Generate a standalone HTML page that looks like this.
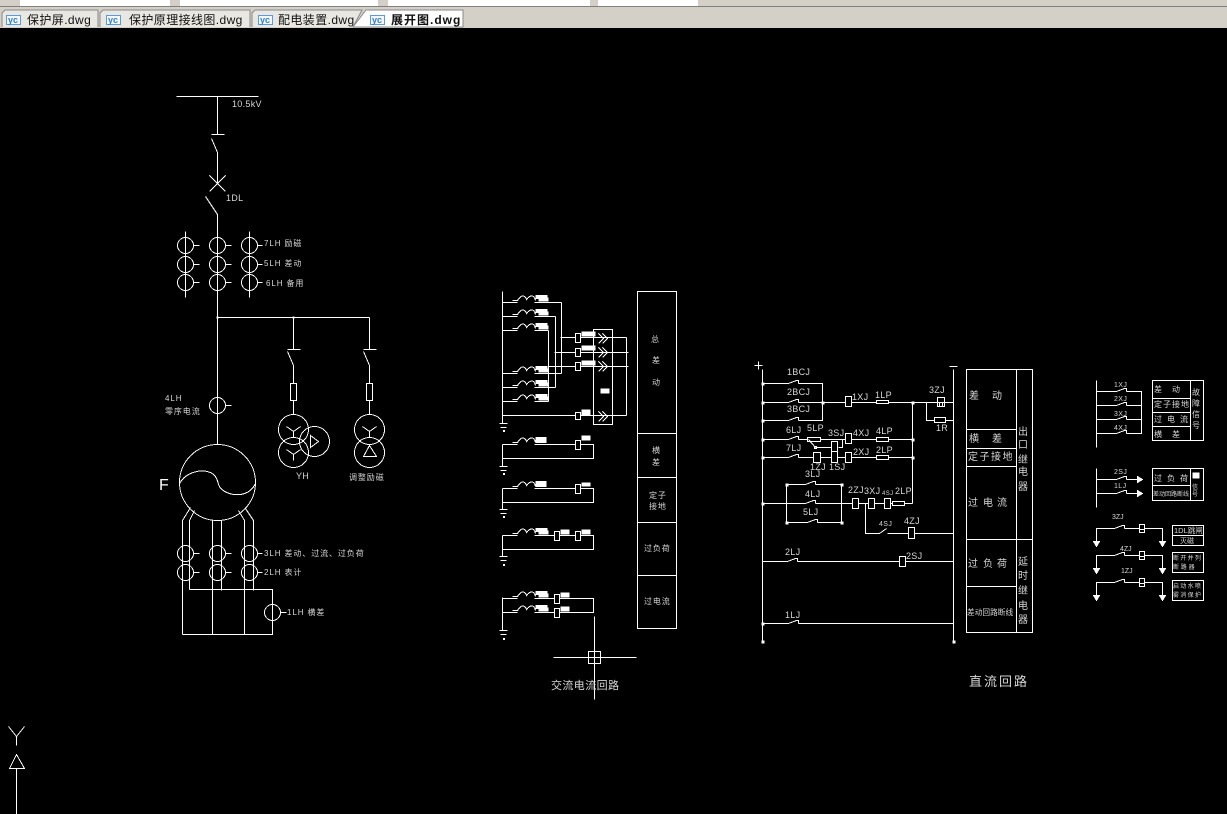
<!DOCTYPE html>
<html><head><meta charset="utf-8"><title>展开图.dwg</title>
<style>
html,body{margin:0;padding:0;width:1227px;height:814px;overflow:hidden;background:#000}
svg{display:block}
text{font-family:"Liberation Sans","WenQuanYi Zen Hei","Noto Sans CJK SC",sans-serif;fill:#d6d6d6;stroke:none}
.s{font-size:8px;letter-spacing:.9px}
.m{font-size:9px;letter-spacing:.3px}
.c{font-size:10px}
.t{font-size:12px;fill:#111;letter-spacing:.4px}
.y{font-size:9px;font-weight:bold;fill:#2f7fd0;letter-spacing:0}
</style></head><body>
<svg width="1227" height="814" viewBox="0 0 1227 814" xmlns="http://www.w3.org/2000/svg">
<defs>
<path id="coil" d="M-5 -2H0Q3 -7 6 -6.500Q8 -6 9 -3Q12 -7 15 -6.500Q17 -6 18 -2" fill="none" stroke="#fff"/>
<g id="blk"><rect x="0" y="-7.500" width="12" height="4" fill="#fff" stroke="none"/><rect x="3" y="-5" width="10" height="4" fill="#fff" stroke="none"/></g>
<g id="blk2"><rect x="0" y="-7.500" width="11" height="6" fill="#fff" stroke="none"/></g>
<path id="chev" d="M0 -5L5 0L0 5M4 -5L9 0L4 5" fill="none" stroke="#fff"/>
<g id="ct"><rect x="0" y="-1" width="10" height="2" fill="#000" stroke="none"/><path d="M0 0L8 -3H10V0" fill="none" stroke="#fff"/></g>
<path id="gnd" d="M-3 0H5M-2 4H4" fill="none" stroke="#fff"/>
<path id="arr" d="M-3 0H3L0 5Z" fill="#fff" stroke="#fff"/>
<circle id="ctc" r="8" fill="none" stroke="#fff"/>
</defs>

<rect width="1227" height="814" fill="#000"/>
<!-- tab strip -->
<rect width="1227" height="28" fill="#d4d0c8"/>
<rect x="20" y="0" width="150" height="6" fill="#fff"/>
<rect x="180" y="0" width="198" height="6" fill="#fff"/>
<rect x="388" y="0" width="202" height="6" fill="#fff"/>
<rect x="598" y="0" width="100" height="6" fill="#fff"/>
<rect x="0" y="6" width="1227" height="1" fill="#808080"/>
<g stroke="#8a8a8a" fill="#e9e7e2">
<path d="M2 27V13L5 10H98V27"/>
<path d="M100 27V13L103 10H250V27"/>
<path d="M252 27V13L255 10H362L353 27"/>
<path d="M353 27L366 10H463V27Z" fill="#fff"/>
</g>
<g stroke="#5b9bdd" fill="#f4f8fd">
<rect x="6.500" y="15.500" width="14" height="9"/><rect x="106.500" y="15.500" width="14" height="9"/><rect x="258.500" y="15.500" width="14" height="9"/><rect x="370.500" y="15.500" width="14" height="9"/>
</g>
<text class="y" x="8" y="23">yc</text><text class="y" x="108" y="23">yc</text><text class="y" x="260" y="23">yc</text><text class="y" x="372" y="23">yc</text>
<text class="t" x="27" y="24">保护屏.dwg</text>
<text class="t" x="129" y="24">保护原理接线图.dwg</text>
<text class="t" x="278" y="24">配电装置.dwg</text>
<text class="t" x="391" y="24" style="font-weight:bold;letter-spacing:1px">展开图.dwg</text>

<g transform="translate(.5,.5)" fill="none" stroke="#fff" stroke-width="1" shape-rendering="crispEdges">
<!-- single line diagram -->
<path d="M176 96H258M217 96V134M211 134H224M211 138L217 152V183M209 175L225 191M225 175L209 191M205 196L217 214V444"/>
<path d="M185 231V297M249 231V297"/>
<use href="#ctc" x="185" y="245"/><use href="#ctc" x="217" y="245"/><use href="#ctc" x="249" y="245"/>
<use href="#ctc" x="185" y="264"/><use href="#ctc" x="217" y="264"/><use href="#ctc" x="249" y="264"/>
<use href="#ctc" x="185" y="282"/><use href="#ctc" x="217" y="282"/><use href="#ctc" x="249" y="282"/>
<path d="M193 245H199M225 245H231M257 245H262M193 264H199M225 264H231M257 264H262M193 282H199M225 282H231M257 282H262"/>
<path d="M217 317H369M293 317V349M287 349H300M369 317V349M363 349H376"/>
<path d="M287 351L293 365V383M363 351L369 365V383"/>
<rect x="290" y="383" width="6" height="17"/><rect x="366" y="383" width="6" height="17"/>
<path d="M293 400V414M369 400V414"/>
<circle cx="293" cy="429" r="15"/><circle cx="293" cy="452" r="15"/><circle cx="314" cy="441" r="15"/>
<circle cx="369" cy="429" r="15"/><circle cx="369" cy="452" r="15"/>
<path d="M286 426L293 431L300 426M293 431V437M286 449L293 454L300 449M293 454V460M310 435V447L318 441Z"/>
<path d="M362 426L369 431L376 426M369 431V437M369 445L363 456H376Z"/>
<use href="#ctc" x="217" y="405"/><path d="M225 405H231"/>
<circle cx="217" cy="482" r="38"/>
<path d="M179 483C185 472 200 468 210 472C216 475 217 480 218 484C221 492 232 495 240 494C247 493 252 489 255 483"/>
<path d="M190 507L182 520V634M194 510L189 520V589M212 520V634M221 520V590M238 510L244 520V634M245 508L253 520V590"/>
<use href="#ctc" x="185" y="553"/><use href="#ctc" x="217" y="553"/><use href="#ctc" x="249" y="553"/>
<use href="#ctc" x="185" y="572"/><use href="#ctc" x="217" y="572"/><use href="#ctc" x="249" y="572"/>
<path d="M193 553H199M225 553H231M257 553H262M193 572H199M225 572H231M257 572H262"/>
<path d="M189 589H272V634H182"/>
<use href="#ctc" x="272" y="612"/><path d="M280 612H286"/>

<!-- AC circuit -->
<path d="M502 291V423M561 302V373M555 316V387M548 330V401"/>
<path d="M502 302H517M534 302H561M502 316H517M534 316H555M502 330H517M534 330H548M502 373H517M534 373H561M502 387H517M534 387H555M502 401H517M534 401H548"/>
<use href="#coil" x="517" y="302"/><use href="#coil" x="517" y="316"/><use href="#coil" x="517" y="330"/><use href="#coil" x="517" y="373"/><use href="#coil" x="517" y="387"/><use href="#coil" x="517" y="401"/>
<use href="#blk" x="535" y="302"/><use href="#blk" x="535" y="316"/><use href="#blk" x="535" y="330"/><use href="#blk" x="535" y="373"/><use href="#blk" x="535" y="387"/><use href="#blk" x="535" y="401"/>
<path d="M560 337H575M580 337H626M554 352H575M580 352H628M548 366H575M580 366H628M502 415H575M580 415H626M626 337V415"/>
<rect x="575" y="333" width="5" height="9" fill="#000"/><rect x="575" y="348" width="5" height="8" fill="#000"/><rect x="575" y="362" width="5" height="8" fill="#000"/><rect x="575" y="412" width="5" height="7" fill="#000"/>
<rect x="593" y="329" width="19" height="95"/>
<use href="#chev" x="598" y="338"/><use href="#chev" x="598" y="352"/><use href="#chev" x="598" y="366"/><use href="#chev" x="598" y="416"/>
<g fill="#fff" stroke="none"><rect x="581" y="331" width="14" height="5"/><rect x="581" y="345" width="14" height="5"/><rect x="581" y="360" width="14" height="5"/><rect x="581" y="409" width="9" height="6"/><rect x="600" y="388" width="9" height="5"/></g>
<use href="#gnd" x="502" y="423"/><rect x="503" y="430" width="1" height="1"/>
<!-- group 2 -->
<path d="M502 444V466M502 444H517M534 444H575M580 444H593V458H502"/>
<use href="#coil" x="517" y="444"/><use href="#blk2" x="535" y="444"/>
<rect x="575" y="440" width="5" height="9" fill="#000"/><rect x="581" y="435" width="9" height="5" fill="#fff" stroke="none"/>
<use href="#gnd" x="502" y="466"/><rect x="503" y="473" width="1" height="1"/>
<!-- group 3 -->
<path d="M502 488V509M502 488H517M534 488H575M580 488H593V502H502"/>
<use href="#coil" x="517" y="488"/><use href="#blk2" x="535" y="488"/>
<rect x="575" y="484" width="5" height="9" fill="#000"/><rect x="581" y="482" width="9" height="4" fill="#fff" stroke="none"/>
<use href="#gnd" x="502" y="509"/><rect x="503" y="516" width="1" height="1"/>
<!-- group 4 -->
<path d="M502 535V556M502 535H517M534 535H554M559 535H575M580 535H593V549H502"/>
<use href="#coil" x="517" y="535"/><use href="#blk" x="535" y="535"/>
<rect x="554" y="531" width="5" height="9" fill="#000"/><rect x="575" y="531" width="5" height="9" fill="#000"/>
<rect x="560" y="529" width="9" height="5" fill="#fff" stroke="none"/><rect x="581" y="529" width="9" height="5" fill="#fff" stroke="none"/>
<use href="#gnd" x="502" y="556"/><rect x="503" y="564" width="1" height="1"/>
<!-- group 5 -->
<path d="M502 597V630M502 598H517M534 598H554M559 598H593V612H559M554 612H534M517 612H502"/>
<use href="#coil" x="517" y="598"/><use href="#coil" x="517" y="612"/><use href="#blk" x="535" y="598"/><use href="#blk" x="535" y="612"/>
<rect x="554" y="594" width="5" height="9" fill="#000"/><rect x="554" y="608" width="5" height="9" fill="#000"/>
<rect x="560" y="592" width="9" height="5" fill="#fff" stroke="none"/><rect x="560" y="606" width="9" height="5" fill="#fff" stroke="none"/>
<use href="#gnd" x="502" y="630"/><rect x="503" y="638" width="1" height="1"/>
<!-- crosshair -->
<path d="M594 616V699M553 657H636"/>
<rect x="588" y="651" width="12" height="12"/>
<!-- AC table -->
<rect x="637" y="291" width="39" height="337"/>
<path d="M637 433H676M637 477H676M637 522H676M637 575H676"/>

<!-- DC circuit -->
<path d="M754 365H762M758 361V369M949 366H957M762 369V642M953 369V642"/>
<path d="M762 383H822V420H762M762 402H845M851 402H876M888 402H937M944 402H953M926 402V420H934M945 420H953"/>
<use href="#ct" x="788" y="383"/><use href="#ct" x="788" y="402"/><use href="#ct" x="788" y="420"/>
<rect x="845" y="396" width="6" height="10" fill="#000"/>
<rect x="876" y="400" width="12" height="3" fill="#000"/>
<rect x="937" y="397" width="7" height="9" fill="#000"/><path d="M937 402H944M939 402V406M942 402V406"/>
<rect x="934" y="417" width="11" height="5" fill="#000"/>
<path d="M912 402V503M904 503H912"/>
<path d="M762 439H807M820 439H845M851 439H876M888 439H912"/>
<use href="#ct" x="788" y="439"/>
<rect x="807" y="437" width="13" height="4" fill="#000"/>
<path d="M808 439L815 447M815 447H831M838 447H842V439"/>
<rect x="814" y="446" width="2" height="2"/>
<path d="M762 457H813M820 457H831M837 457H845M851 457H876M888 457H912"/>
<use href="#ct" x="788" y="457"/>
<rect x="813" y="452" width="7" height="10" fill="#000"/><rect x="831" y="451" width="6" height="11" fill="#000"/><rect x="831" y="441" width="6" height="10" fill="#000"/><rect x="845" y="433" width="6" height="10" fill="#000"/><rect x="845" y="452" width="6" height="10" fill="#000"/>
<rect x="876" y="437" width="12" height="4" fill="#000"/><rect x="876" y="455" width="12" height="4" fill="#000"/>
<path d="M762 503H852M858 503H868M874 503H884M890 503H892M786 484H841V522H786ZM865 503V533H879M887 533H908M914 533H953"/>
<path d="M879 533L886 528"/>
<use href="#ct" x="805" y="484"/><use href="#ct" x="805" y="503"/><use href="#ct" x="807" y="522"/>
<rect x="852" y="498" width="6" height="10" fill="#000"/><rect x="868" y="498" width="6" height="10" fill="#000"/><rect x="884" y="498" width="6" height="10" fill="#000"/><rect x="892" y="501" width="12" height="4" fill="#000"/>
<rect x="908" y="527" width="6" height="11" fill="#000"/>
<path d="M762 561H899M905 561H953"/><use href="#ct" x="787" y="561"/><rect x="899" y="556" width="6" height="10" fill="#000"/>
<path d="M762 623H953"/><use href="#ct" x="788" y="623"/>
<g fill="#fff" stroke="none">
<rect x="761" y="382" width="3" height="3"/><rect x="761" y="401" width="3" height="3"/><rect x="761" y="419" width="3" height="3"/><rect x="761" y="438" width="3" height="3"/><rect x="761" y="456" width="3" height="3"/><rect x="761" y="502" width="3" height="3"/><rect x="761" y="622" width="3" height="3"/><rect x="761" y="640" width="3" height="3"/>
<rect x="952" y="640" width="3" height="3"/><rect x="821" y="401" width="3" height="3"/><rect x="911" y="401" width="3" height="3"/><rect x="911" y="438" width="3" height="3"/><rect x="911" y="456" width="3" height="3"/><rect x="785" y="483" width="3" height="3"/><rect x="785" y="521" width="3" height="3"/><rect x="840" y="483" width="3" height="3"/><rect x="840" y="521" width="3" height="3"/>
<rect x="216" y="316" width="2" height="2"/><rect x="292" y="316" width="2" height="2"/>
</g>
<!-- DC table -->
<rect x="966" y="369" width="66" height="263"/>
<path d="M1016 369V632M966 429H1016M966 448H1016M966 466H1016M966 539H1032M966 586H1016"/>

<!-- right signal circuits -->
<path d="M1096 380V447M1096 391H1141V433H1096M1096 405H1141M1096 419H1141"/>
<use href="#ct" x="1116" y="391"/><use href="#ct" x="1116" y="405"/><use href="#ct" x="1116" y="419"/><use href="#ct" x="1116" y="433"/>
<rect x="1152" y="380" width="51" height="60"/>
<path d="M1190 380V440M1152 398H1190M1152 412H1190M1152 426H1190"/>
<path d="M1096 468V507M1096 479H1137M1096 493H1137"/>
<use href="#ct" x="1116" y="479"/><use href="#ct" x="1116" y="493"/>
<path d="M1137 476V482L1142 479ZM1137 490V496L1142 493Z" fill="#fff"/>
<rect x="1152" y="468" width="51" height="32"/>
<path d="M1190 468V500M1152 485H1190"/>
<rect x="1192" y="472" width="7" height="6" fill="#fff" stroke="none"/>

<path d="M1096 541V528H1139M1143 528H1162V541M1096 568V555H1139M1143 555H1162V568M1096 595V582H1139M1143 582H1162V595"/>
<use href="#ct" x="1114" y="528"/><use href="#ct" x="1114" y="555"/><use href="#ct" x="1114" y="582"/>
<rect x="1139" y="524" width="5" height="8" fill="#000"/><rect x="1139" y="551" width="5" height="8" fill="#000"/><rect x="1139" y="578" width="5" height="8" fill="#000"/>
<path d="M1139 529H1144M1139 556H1144M1139 583H1144"/>
<use href="#arr" x="1096" y="541"/><use href="#arr" x="1162" y="541"/><use href="#arr" x="1096" y="568"/><use href="#arr" x="1162" y="568"/><use href="#arr" x="1096" y="595"/><use href="#arr" x="1162" y="595"/>
<rect x="1172" y="525" width="31" height="20"/><path d="M1172 535H1203"/>
<rect x="1172" y="552" width="31" height="20"/>
<rect x="1172" y="580" width="31" height="20"/>

<!-- UCS -->
<path d="M8 726L16 736L24 726M16 736V745M16 754L9 768H24ZM16 768V814"/>
</g>

<!-- labels -->
<text class="m" x="232" y="107">10.5kV</text>
<text class="m" x="226" y="201">1DL</text>
<text class="s" x="264" y="246">7LH 励磁</text>
<text class="s" x="264" y="266">5LH 差动</text>
<text class="s" x="266" y="286">6LH 备用</text>
<text class="s" x="165" y="401">4LH</text>
<text class="s" x="165" y="414">零序电流</text>
<text x="159" y="490" style="font-size:16px;fill:#fff">F</text>
<text class="m" x="296" y="479">YH</text>
<text class="s" x="349" y="480">调整励磁</text>
<text class="s" x="264" y="556">3LH 差动、过流、过负荷</text>
<text class="s" x="264" y="575">2LH 表计</text>
<text class="s" x="287" y="615">1LH 横差</text>

<text class="s" x="651" y="342">总</text><text class="s" x="652" y="363">差</text><text class="s" x="652" y="385">动</text>
<text class="s" x="652" y="453">横</text><text class="s" x="652" y="465">差</text>
<text class="s" x="649" y="498">定子</text><text class="s" x="649" y="509">接地</text>
<text class="s" x="644" y="551">过负荷</text><text class="s" x="644" y="604">过电流</text>
<text x="551" y="689" style="font-size:11px;letter-spacing:.4px">交流电流回路</text>

<text class="m" x="787" y="375">1BCJ</text><text class="m" x="787" y="395">2BCJ</text><text class="m" x="787" y="412">3BCJ</text>
<text class="m" x="852" y="400">1XJ</text><text class="m" x="875" y="398">1LP</text><text class="m" x="929" y="393">3ZJ</text><text class="m" x="936" y="431">1R</text>
<text class="m" x="786" y="433">6LJ</text><text class="m" x="807" y="431">5LP</text><text class="m" x="828" y="436">3SJ</text><text class="m" x="853" y="436">4XJ</text><text class="m" x="876" y="434">4LP</text>
<text class="m" x="786" y="451">7LJ</text><text class="m" x="853" y="455">2XJ</text><text class="m" x="876" y="453">2LP</text>
<text class="m" x="810" y="470">1ZJ</text><text class="m" x="829" y="470">1SJ</text><text class="m" x="805" y="477">3LJ</text>
<text class="m" x="805" y="497">4LJ</text><text class="m" x="803" y="515">5LJ</text>
<text class="m" x="848" y="493">2ZJ</text><text class="m" x="864" y="494">3XJ</text><text x="882" y="495" style="font-size:6px;letter-spacing:.4px">4SJ</text><text class="m" x="895" y="494">2LP</text>
<text x="879" y="526" style="font-size:7px;letter-spacing:.4px">4SJ</text><text class="m" x="904" y="524">4ZJ</text>
<text class="m" x="785" y="555">2LJ</text><text class="m" x="906" y="559">2SJ</text><text class="m" x="785" y="618">1LJ</text>

<text class="c" x="969" y="399">差</text><text class="c" x="992" y="399">动</text>
<text class="c" x="969" y="442">横</text><text class="c" x="992" y="442">差</text>
<text class="c" x="968" y="460" style="letter-spacing:1.500px">定子接地</text>
<text class="c" x="968" y="506">过</text><text class="c" x="983" y="506">电</text><text class="c" x="997" y="506">流</text>
<text class="c" x="968" y="567">过</text><text class="c" x="983" y="567">负</text><text class="c" x="997" y="567">荷</text>
<text x="967" y="615" style="font-size:7.700px">差动回路断线</text>
<text class="c" x="1018" y="435">出</text><text class="c" x="1018" y="448">口</text><text class="c" x="1018" y="463">继</text><text class="c" x="1018" y="475">电</text><text class="c" x="1018" y="490">器</text>
<text class="c" x="1018" y="565">延</text><text class="c" x="1018" y="579">时</text><text class="c" x="1018" y="594">继</text><text class="c" x="1018" y="609">电</text><text class="c" x="1018" y="623">器</text>
<text x="969" y="686" style="font-size:13px;letter-spacing:2px">直流回路</text>

<text x="1114" y="387" style="font-size:7px;letter-spacing:.4px">1XJ</text><text x="1114" y="401" style="font-size:7px;letter-spacing:.4px">2XJ</text><text x="1114" y="416" style="font-size:7px;letter-spacing:.4px">3XJ</text><text x="1114" y="430" style="font-size:7px;letter-spacing:.4px">4XJ</text>
<text class="s" x="1154" y="392">差</text><text class="s" x="1172" y="392">动</text>
<text x="1154" y="407" style="font-size:8px;letter-spacing:1px">定子接地</text>
<text class="s" x="1154" y="422" style="letter-spacing:5px">过电流</text>
<text class="s" x="1154" y="437">横</text><text class="s" x="1172" y="437">差</text>
<text class="s" x="1192" y="395">故</text><text class="s" x="1192" y="406">障</text><text class="s" x="1192" y="417">信</text><text class="s" x="1192" y="428">号</text>
<text x="1114" y="474" style="font-size:7px;letter-spacing:.4px">2SJ</text><text x="1114" y="488" style="font-size:7px;letter-spacing:.4px">1LJ</text>
<text class="s" x="1154" y="481" style="letter-spacing:5px">过负荷</text>
<text x="1153" y="496" style="font-size:6px">差动回路断线</text>
<text x="1192" y="489" style="font-size:6px">信</text><text x="1192" y="496" style="font-size:6px">号</text>
<text x="1112" y="519" style="font-size:7px">3ZJ</text><text x="1120" y="551" style="font-size:7px">4ZJ</text><text x="1121" y="573" style="font-size:7px">1ZJ</text>
<text x="1174" y="533" style="font-size:7.500px">1DL跳闸</text><text x="1180" y="543" style="font-size:7px">灭磁</text>
<text x="1173" y="560" style="font-size:6px;letter-spacing:1.300px">断开并列</text><text x="1173" y="569" style="font-size:6px;letter-spacing:1.800px">断路器</text>
<text x="1173" y="588" style="font-size:6px;letter-spacing:1.300px">启动水喷</text><text x="1173" y="597" style="font-size:6px;letter-spacing:1.300px">雾消保护</text>
</svg>
</body></html>
